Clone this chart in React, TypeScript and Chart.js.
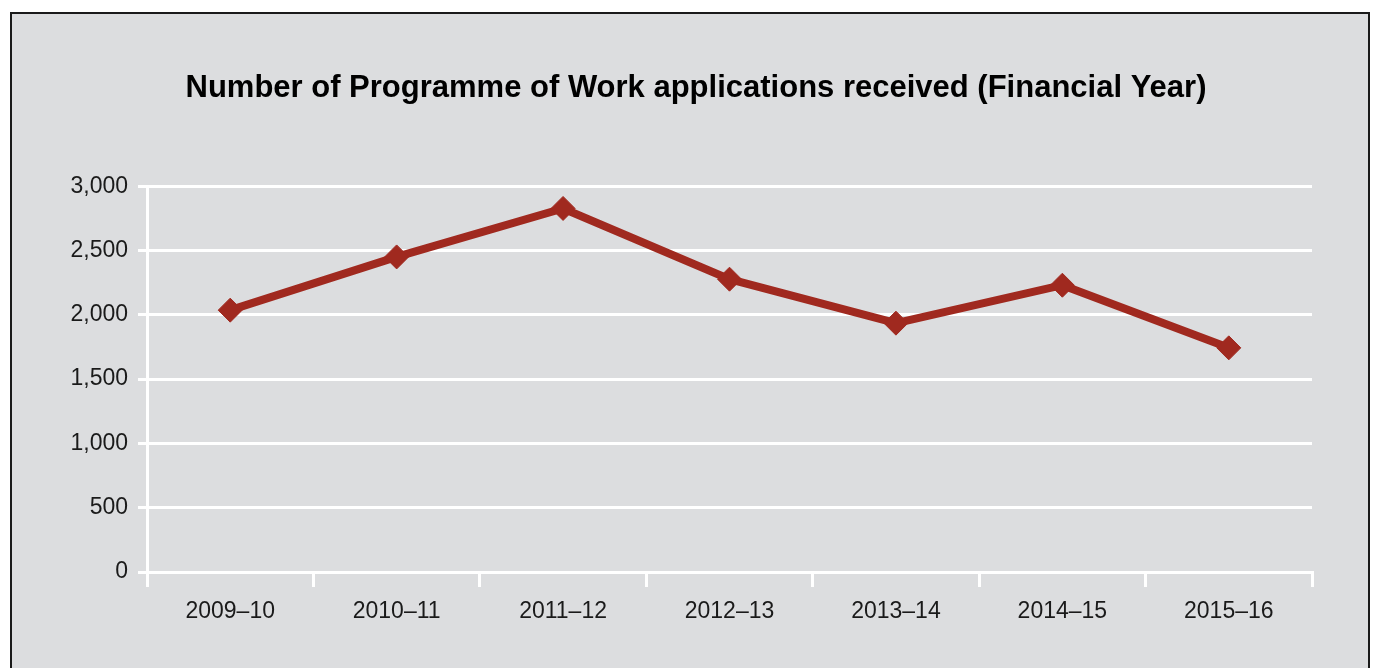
import React, { useEffect, useRef } from "react";
import { Chart, registerables } from "chart.js";

Chart.register(...registerables);

const categories = ["2009–10", "2010–11", "2011–12", "2012–13", "2013–14", "2014–15", "2015–16"];
const applications = [2036, 2450, 2827, 2277, 1935, 2230, 1743];
const yTicks = [0, 500, 1000, 1500, 2000, 2500, 3000];
const titleText = "Number of Programme of Work applications received (Financial Year)";

export default function App() {
  const ref = useRef<HTMLCanvasElement | null>(null);

  useEffect(() => {
    if (!ref.current) return;
    const chart = new Chart(ref.current, {
      type: "line",
      data: {
        labels: categories,
        datasets: [
          {
            data: applications,
            yAxisID: "y",
            borderColor: "#a0291f",
            backgroundColor: "#a0291f",
            borderWidth: 8,
            pointStyle: "rectRot",
            pointRadius: 12,
            pointBorderWidth: 1,
            pointBackgroundColor: "#a0291f",
            pointBorderColor: "#a0291f",
            tension: 0,
          },
        ],
      },
      options: {
        animation: false,
        responsive: false,
        maintainAspectRatio: false,
        layout: { padding: { left: 16, right: 0, top: 0, bottom: 0 } },
        plugins: {
          legend: { display: false },
          tooltip: { enabled: false },
          title: {
            display: true,
            text: titleText,
            color: "#000",
            font: { family: "'Liberation Sans', Arial, sans-serif", size: 31, weight: "bold" },
            padding: { top: 70, bottom: 79 },
          },
        },
        scales: {
          x: {
            type: "category",
            offset: true,
            afterFit: (s: any) => {
              s.height = 96;
            },
            border: { display: true, color: "#ffffff", width: 3 },
            grid: {
              offset: true,
              drawOnChartArea: false,
              drawTicks: true,
              tickLength: 15,
              tickColor: "#ffffff",
              lineWidth: 3,
              color: "#ffffff",
            },
            ticks: {
              color: "#1a1a1a",
              padding: 11,
              maxRotation: 0,
              font: { family: "'Liberation Sans', Arial, sans-serif", size: 23 },
            },
          },
          y: {
            min: 0,
            max: 3000,
            afterFit: (s: any) => {
              s.width = 131;
            },
            afterBuildTicks: (s: any) => {
              s.ticks = yTicks.map((v) => ({ value: v }));
            },
            border: { display: true, color: "#ffffff", width: 3 },
            grid: {
              color: "#ffffff",
              lineWidth: 3,
              drawTicks: true,
              tickLength: 9,
              tickColor: "#ffffff",
            },
            ticks: {
              color: "#1a1a1a",
              padding: 10,
              font: { family: "'Liberation Sans', Arial, sans-serif", size: 23 },
              callback: (v: any) => Number(v).toLocaleString("en-US"),
            },
          },
          yRight: {
            position: "right",
            min: 0,
            max: 3000,
            afterFit: (s: any) => {
              s.width = 64;
            },
            border: { display: false },
            grid: { display: false, drawOnChartArea: false, drawTicks: false },
            ticks: { display: false },
          },
        },
      },
    });
    return () => chart.destroy();
  }, []);

  return (
    <div style={{ position: "fixed", left: 0, top: 0, width: 1376, height: 668, background: "#ffffff", overflow: "hidden" }}>
      <div
        style={{
          position: "absolute",
          left: 10,
          top: 12,
          width: 1360,
          height: 700,
          boxSizing: "border-box",
          border: "2px solid #1a1a1a",
          background: "#dcdddf",
        }}
      />
      <canvas
        ref={ref}
        width={1376}
        height={668}
        style={{ position: "absolute", left: 0, top: 0, width: 1376, height: 668 }}
      />
    </div>
  );
}
